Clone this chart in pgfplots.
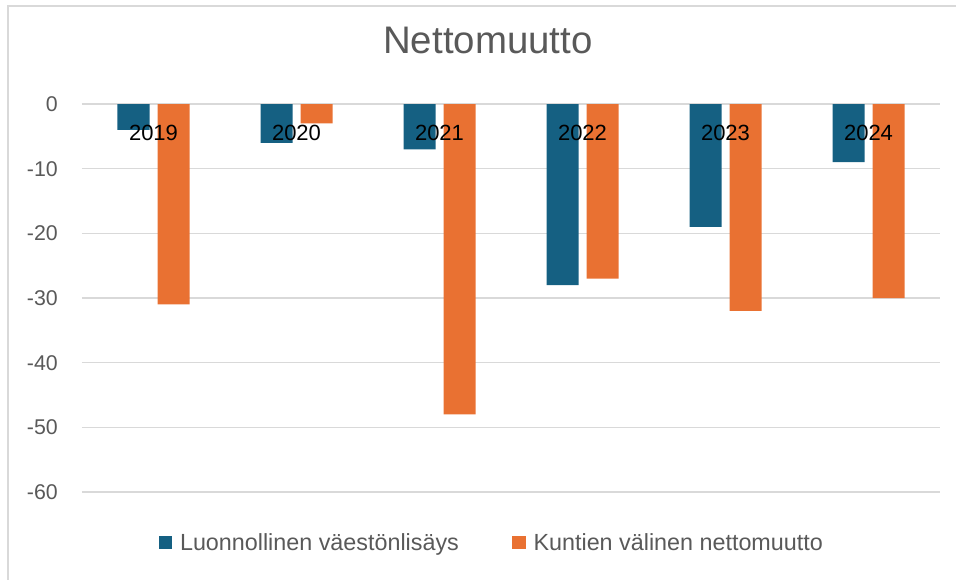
\documentclass[border=0pt]{standalone}
\usepackage{pgfplots}
\pgfplotsset{compat=1.18}
\usepackage{fontspec}
\setmainfont{Liberation Sans}

\definecolor{sarjaA}{HTML}{156082}
\definecolor{sarjaB}{HTML}{E97132}
\definecolor{ruudukko}{HTML}{D9D9D9}
\definecolor{teksti}{HTML}{595959}

\tikzset{vuosi/.style={font=\fontsize{16.5}{18}\selectfont, text=black, yshift=-21.75pt}}

\begin{document}
\begin{tikzpicture}
% sivun koko: 956 x 579 px, 1 px = 0.75 pt, origo = kuvaajan vasen alakulma
\useasboundingbox (-61.5pt,-65.25pt) rectangle (655.5pt,369pt);
\draw[ruudukko, line width=1.2pt] (-55.5pt,-80pt) -- (-55.5pt,364.5pt) -- (700pt,364.5pt);

\begin{axis}[
    at={(0,0)}, anchor=south west,
    width=643.5pt, height=291pt, scale only axis,
    xmin=-0.5, xmax=5.5,
    ymin=-60, ymax=0,
    ybar=6pt, bar width=24pt,
    clip=false,
    axis line style={draw=none},
    major tick length=0pt,
    ymajorgrids,
    major grid style={ruudukko, line width=1.1pt},
    ytick={-60,-50,...,0},
    /pgf/number format/assume math mode=true,
    yticklabel style={font=\fontsize{16}{18}\selectfont, text=teksti,
        anchor=east, inner sep=0pt, xshift=-18pt},
    xtick=\empty,
    title={Nettomuutto},
    title style={at={(0.473,1.144)}, anchor=center,
        font=\fontsize{28.8}{32}\selectfont, text=teksti},
    legend columns=2,
    legend style={at={(0.478,-0.131)}, anchor=center, draw=none,
        font=\fontsize{17.5}{19}\selectfont, text=teksti,
        /tikz/every odd column/.append style={column sep=4pt},
        /tikz/every even column/.append style={column sep=38pt}},
    legend image code/.code={\fill[#1] (0pt,-5pt) rectangle (10pt,5pt);},
]
\addplot[fill=sarjaA, draw=none] coordinates {
    (0,-4) (1,-6) (2,-7) (3,-28) (4,-19) (5,-9)
};
\addplot[fill=sarjaB, draw=none] coordinates {
    (0,-31) (1,-3) (2,-48) (3,-27) (4,-32) (5,-30)
};
\legend{Luonnollinen väestönlisäys, Kuntien välinen nettomuutto}
% vuosiluvut palkkien päällä, kuten alkuperäisessä
\node[vuosi] at (axis cs:0,0) {2019};
\node[vuosi] at (axis cs:1,0) {2020};
\node[vuosi] at (axis cs:2,0) {2021};
\node[vuosi] at (axis cs:3,0) {2022};
\node[vuosi] at (axis cs:4,0) {2023};
\node[vuosi] at (axis cs:5,0) {2024};
\end{axis}
\end{tikzpicture}
\end{document}
